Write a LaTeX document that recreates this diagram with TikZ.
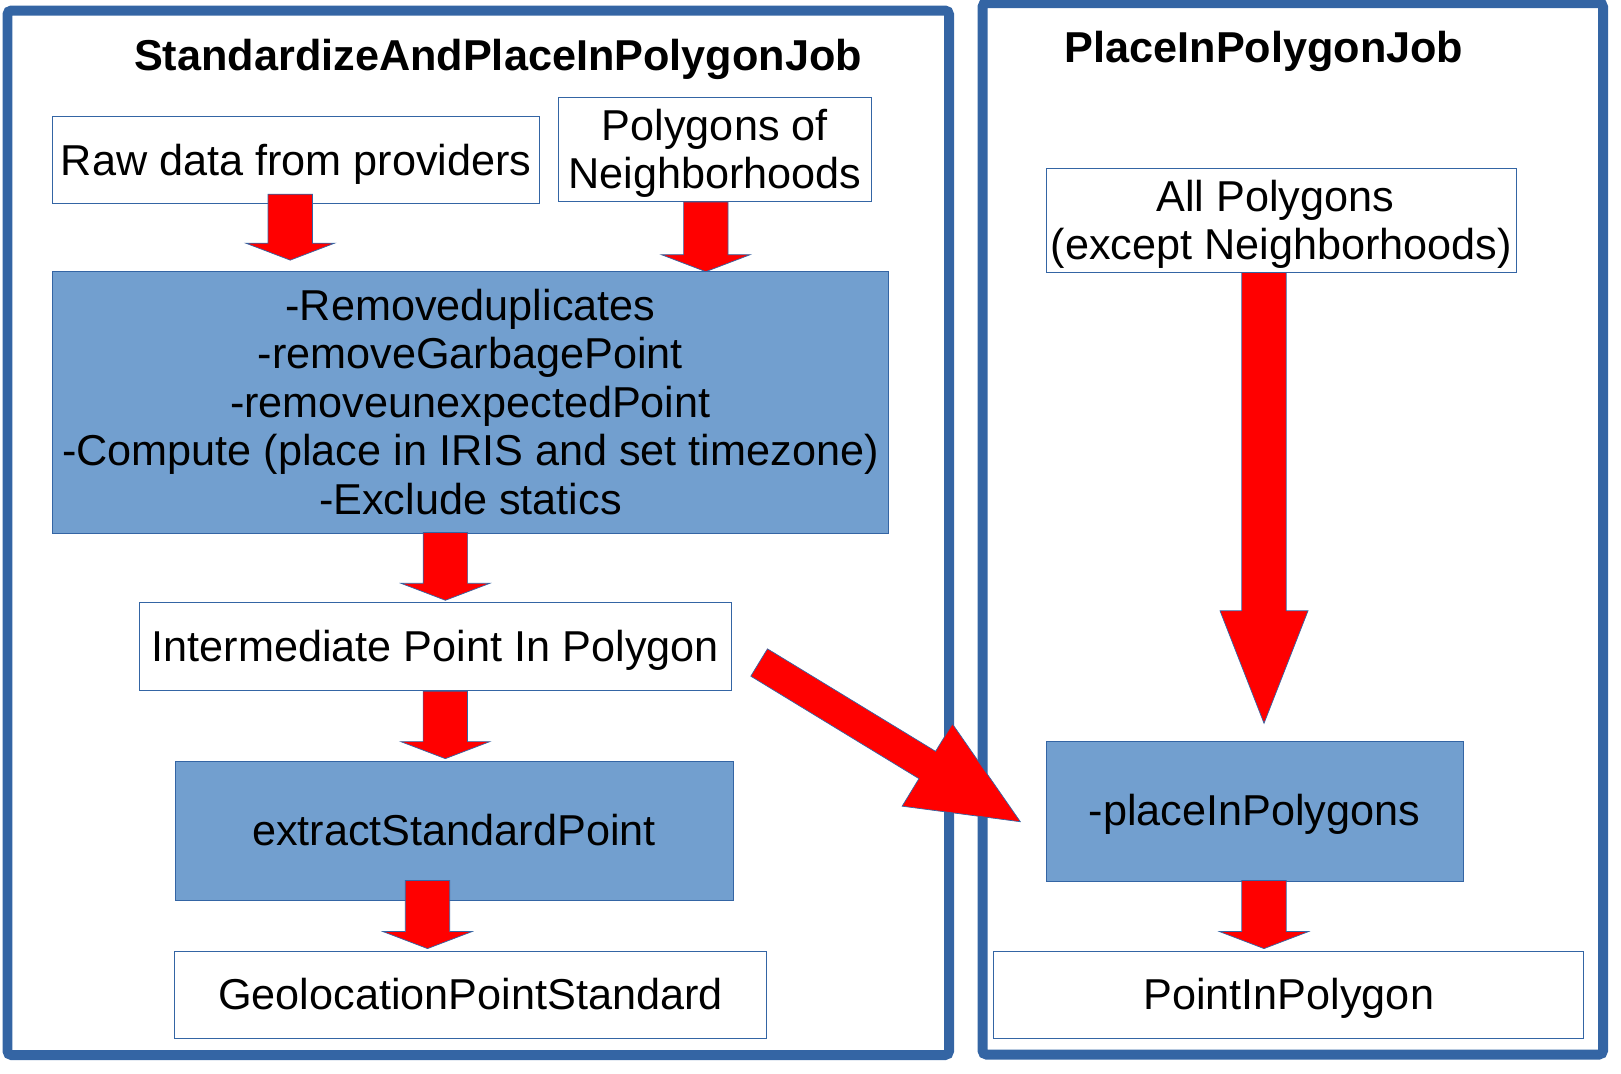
\documentclass[tikz,border=0pt]{standalone}
\usepackage{fontspec}
\setmainfont{Liberation Sans}
\usetikzlibrary{calc}
\definecolor{frameblue}{RGB}{52,101,164}
\definecolor{stepblue}{RGB}{114,159,207}

% block arrow: tail, tip, half shaft, half head, head length
\newcommand{\blockarrow}[5]{%
  \coordinate (ba-base) at ($(#2)!#5!(#1)$);
  \filldraw[fatarrow] ($(#1)!#3!90:(#2)$) -- ($(ba-base)!#3!-90:(#1)$)
    -- ($(ba-base)!#4!-90:(#1)$) -- (#2) -- ($(ba-base)!#4!90:(#1)$)
    -- ($(ba-base)!#3!90:(#1)$) -- ($(#1)!#3!-90:(#2)$) -- cycle;}
\newcommand{\linestrut}{\rule[-0.212em]{0pt}{1.117em}}
\newcommand{\topstrut}{\rule{0pt}{0.905em}}

\begin{document}
\begin{tikzpicture}[
      x=0.02cm, y=-0.02cm,
      font=\fontsize{24.6pt}{27.6pt}\selectfont,
      jobframe/.style={draw=frameblue, line width=0.2cm, rounded corners=0.08cm},
      jobtitle/.style={font=\fontsize{24.6pt}{27.6pt}\selectfont\bfseries, anchor=base},
      plainbox/.style={rectangle, draw=frameblue, line width=0.5pt, fill=white,
                       align=center, inner sep=0pt,
                       execute at begin node=\linestrut, execute at end node=\linestrut},
      taskbox/.style={plainbox, fill=stepblue},
      fatarrow/.style={fill=red, draw=frameblue, line width=0.4pt, line join=miter}
  ]
  \useasboundingbox (0,0) rectangle (1621,1073);

  % the two jobs
  \draw[jobframe] (7.5,10.5) rectangle (949,1055);
  \draw[jobframe] (982.5,3) rectangle (1603,1054.5);
  \node[jobtitle] (stdjob)   at (498,70)  {StandardizeAndPlaceInPolygonJob};
  \node[jobtitle] (placejob) at (1264,62) {PlaceInPolygonJob};

  \node[plainbox, minimum width=9.74cm, minimum height=1.74cm]  (raw)     at (296.2,160.3) {Raw data from providers};
  \node[plainbox, minimum width=6.27cm, minimum height=2.09cm]  (poly)    at (714.8,149.3) {\topstrut Polygons of\\Neighborhoods};
  \node[taskbox,  minimum width=16.71cm, minimum height=5.25cm] (clean)   at (470.4,402.3)
        {\topstrut -Removeduplicates\\-removeGarbagePoint\\-removeunexpectedPoint\\-Compute (place in IRIS and set timezone)\\-Exclude statics};
  \node[plainbox, minimum width=11.83cm, minimum height=1.76cm] (inter)   at (435.3,646.7) {Intermediate Point In Polygon};
  \node[taskbox,  minimum width=11.16cm, minimum height=2.79cm] (extract) at (454,830.8)   {extractStandardPoint};
  \node[plainbox, minimum width=11.83cm, minimum height=1.74cm] (geo)     at (470.4,994.5) {GeolocationPointStandard};

  \node[plainbox, minimum width=9.41cm, minimum height=2.07cm]  (allpoly) at (1281.3,220.3) {\topstrut All Polygons\hspace*{0.278em}\\(except Neighborhoods)};
  \node[taskbox,  minimum width=8.34cm, minimum height=2.8cm]   (place)   at (1254.5,811)   {-placeInPolygons};
  \node[plainbox, minimum width=11.81cm, minimum height=1.74cm] (pip)     at (1288.7,994.5) {PointInPolygon};

  % arrow ends
  \coordinate (a1) at ($(raw.south)+(-6,-10)$);
  \coordinate (b1) at ($(a1 |- clean.north)+(0,-10.5)$);
  \coordinate (a2) at ($(poly.south)+(-9,0)$);
  \coordinate (b2) at ($(a2 |- clean.north)+(0,1)$);
  \coordinate (a3) at ($(clean.south)+(-25,-1.5)$);
  \coordinate (b3) at ($(a3 |- inter.north)+(0,-2)$);
  \coordinate (a4) at ($(inter.south)+(10,0)$);
  \coordinate (b4) at ($(a4 |- extract.north)+(0,-2)$);
  \coordinate (a5) at ($(extract.south)+(-26.5,-20.5)$);
  \coordinate (b5) at ($(a5 |- geo.north)+(0,-2)$);
  \coordinate (a6) at ($(place.south)+(9.5,-1)$);
  \coordinate (b6) at ($(a6 |- pip.north)+(0,-2)$);
  \coordinate (a7) at ($(allpoly.south)+(-17.3,0)$);
  \coordinate (b7) at ($(a7 |- place.north)+(0,-17.3)$);
  \coordinate (a8) at ($(inter.east)+(27.7,15.8)$);
  \coordinate (b8) at ($(place.west)+(-25.3,10.7)$);

  \foreach \s/\t in {a1/b1, a2/b2, a3/b3, a4/b4, a5/b5, a6/b6}{
    \blockarrow{\s}{\t}{0.444cm}{0.89cm}{0.34cm}
  }
  \blockarrow{a7}{b7}{0.444cm}{0.88cm}{2.25cm}
  % to the other job
  \blockarrow{a8}{b8}{0.32cm}{0.965cm}{2.18cm}
\end{tikzpicture}
\end{document}
